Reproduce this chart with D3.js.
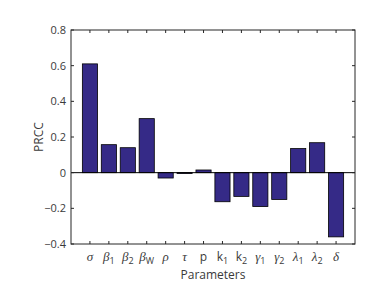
<!DOCTYPE html>
<html><head><meta charset="utf-8">
<script src="https://cdn.jsdelivr.net/npm/d3@7"></script>
<style>body{margin:0;background:#fff}svg{display:block}</style>
</head><body><div id="c"></div>
<script>
const paramSymbols = ["σ","β","β","β","ρ","τ","p","k","k","γ","γ","λ","λ","δ"];
const paramSubs    = ["","1","2","W","","","","1","2","1","2","1","2",""];
const paramGreek   = [true,true,true,true,true,true,false,false,false,true,true,true,true,true];
const prcc = [0.61,0.157,0.14,0.303,-0.03,-0.005,0.015,-0.163,-0.133,-0.19,-0.15,0.135,0.168,-0.36];
const yTicks = [-0.4,-0.2,0,0.2,0.4,0.6,0.8];

const W=388,H=286;
const m={l:71,r:33,t:30,b:42};
const svg=d3.select("#c").append("svg").attr("width",W).attr("height",H);
const x=d3.scaleLinear().domain([0,prcc.length+1]).range([m.l,W-m.r]);
const y=d3.scaleLinear().domain([-0.4,0.8]).range([H-m.b,m.t]);
const bw=(x(1)-x(0))*0.8;
const axC="#262626", txC="#3a3a3a";

svg.append("g").selectAll("rect").data(prcc).join("rect")
  .attr("x",(d,i)=>x(i+1)-bw/2).attr("width",bw)
  .attr("y",d=>y(Math.max(0,d))).attr("height",d=>Math.abs(y(d)-y(0)))
  .attr("fill","#352a87").attr("stroke","#000").attr("stroke-width",0.8);

// baseline
svg.append("line").attr("x1",x(0)).attr("x2",x(prcc.length+1)).attr("y1",y(0)).attr("y2",y(0))
  .attr("stroke","#000").attr("stroke-width",1);

// box
svg.append("rect").attr("x",x(0)).attr("y",y(0.8)).attr("width",x(prcc.length+1)-x(0)).attr("height",y(-0.4)-y(0.8))
  .attr("fill","none").attr("stroke",axC).attr("stroke-width",1);

const tl=3;
const g=svg.append("g").attr("stroke",axC).attr("stroke-width",1);
prcc.forEach((d,i)=>{
  const xx=x(i+1);
  g.append("line").attr("x1",xx).attr("x2",xx).attr("y1",y(-0.4)).attr("y2",y(-0.4)-tl);
  g.append("line").attr("x1",xx).attr("x2",xx).attr("y1",y(0.8)).attr("y2",y(0.8)+tl);
});
yTicks.forEach(t=>{
  g.append("line").attr("x1",x(0)).attr("x2",x(0)+tl).attr("y1",y(t)).attr("y2",y(t));
  g.append("line").attr("x1",x(prcc.length+1)).attr("x2",x(prcc.length+1)-tl).attr("y1",y(t)).attr("y2",y(t));
});

svg.append("g").selectAll("text").data(yTicks).join("text")
  .attr("x",x(0)-5).attr("y",d=>y(d)).attr("dy","0.35em").attr("text-anchor","end")
  .attr("font-family","Open Sans, sans-serif").attr("font-size",11).attr("fill",txC)
  .text(d=>d===0?"0":d3.format(".1f")(d));

const lab=svg.append("g");
prcc.forEach((d,i)=>{
  const t=lab.append("text").attr("x",x(i+1)).attr("y",H-m.b+17).attr("text-anchor","middle").attr("fill",txC);
  t.append("tspan").text(paramSymbols[i])
    .attr("font-family",paramGreek[i]?"Liberation Serif, serif":"Open Sans, sans-serif")
    .attr("font-style",paramGreek[i]?"italic":"normal")
    .attr("font-size",paramGreek[i]?13:12);
  if(paramSubs[i]) t.append("tspan").text(paramSubs[i]).attr("dy",3)
    .attr("font-family","Open Sans, sans-serif").attr("font-size",9);
});

svg.append("text").attr("x",(x(0)+x(prcc.length+1))/2).attr("y",H-7).attr("text-anchor","middle")
  .attr("font-family","Open Sans, sans-serif").attr("font-size",12).attr("fill",txC).text("Parameters");
svg.append("text").attr("transform",`translate(43,${(y(0.8)+y(-0.4))/2}) rotate(-90)`).attr("text-anchor","middle")
  .attr("font-family","Open Sans, sans-serif").attr("font-size",12).attr("fill",txC).text("PRCC");
</script></body></html>
